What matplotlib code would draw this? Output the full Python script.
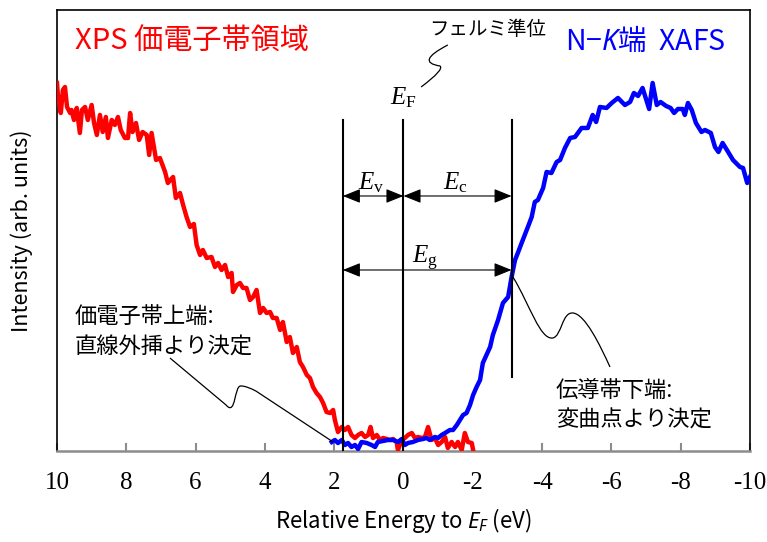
import matplotlib
matplotlib.use('Agg')
import matplotlib.pyplot as plt
from matplotlib.path import Path
from matplotlib.patches import PathPatch, FancyArrowPatch

plt.rcParams['font.family'] = ['Noto Sans CJK JP', 'DejaVu Sans']
plt.rcParams['axes.unicode_minus'] = False
plt.rcParams['mathtext.fontset'] = 'custom'
plt.rcParams['mathtext.rm'] = 'Liberation Serif'
plt.rcParams['mathtext.it'] = 'Liberation Serif:italic'
plt.rcParams['mathtext.sf'] = 'Noto Sans:italic'

# XPS valence band (red)
xps_e = [10.00, 9.97, 9.89, 9.83, 9.77, 9.71, 9.62, 9.58, 9.51, 9.43, 9.34, 9.28, 9.19, 9.11, 9.00,
         8.93, 8.85, 8.76, 8.68, 8.59, 8.53, 8.42, 8.33, 8.24, 8.16, 8.04, 7.95, 7.89, 7.82, 7.72,
         7.63, 7.53, 7.41, 7.34, 7.27, 7.14, 7.03, 6.88, 6.80, 6.65, 6.57, 6.45, 6.36, 6.26, 6.16,
         6.05, 5.97, 5.87, 5.79, 5.68, 5.54, 5.44, 5.35, 5.25, 5.15, 5.06, 4.96, 4.92, 4.81, 4.72,
         4.63, 4.53, 4.43, 4.34, 4.24, 4.14, 4.05, 3.95, 3.85, 3.77, 3.66, 3.56, 3.48, 3.37, 3.28,
         3.19, 3.08, 2.99, 2.90, 2.79, 2.70, 2.61, 2.51, 2.41, 2.32, 2.22, 2.12, 2.03, 1.98, 1.89,
         1.78, 1.69, 1.60, 1.50, 1.40, 1.31, 1.21, 1.11, 1.02, 0.95, 0.88, 0.77, 0.68, 0.59, 0.48,
         0.39, 0.30, 0.20, 0.16, 0.05, -0.04, -0.13, -0.24, -0.33, -0.42, -0.53, -0.62, -0.71, -0.81,
         -0.91, -1.00, -1.10, -1.20, -1.28, -1.39, -1.49, -1.57, -1.68, -1.77, -1.86, -1.97, -2.01]
xps_i = [3.68, 3.54, 3.38, 3.61, 3.64, 3.44, 3.38, 3.41, 3.31, 3.43, 3.18, 3.41, 3.44, 3.31, 3.46,
         3.28, 3.16, 3.36, 3.19, 3.34, 3.13, 3.31, 3.26, 3.34, 3.21, 3.13, 3.13, 3.38, 3.19, 3.28,
         3.11, 3.19, 3.16, 2.96, 3.18, 2.91, 2.93, 2.79, 2.68, 2.74, 2.53, 2.58, 2.46, 2.34, 2.24,
         2.27, 2.06, 1.96, 2.01, 1.93, 1.94, 1.84, 1.88, 1.81, 1.86, 1.74, 1.78, 1.59, 1.66, 1.68,
         1.63, 1.63, 1.51, 1.54, 1.61, 1.38, 1.43, 1.38, 1.39, 1.33, 1.33, 1.21, 1.29, 1.09, 1.14,
         0.98, 1.04, 0.89, 0.84, 0.76, 0.73, 0.64, 0.58, 0.54, 0.48, 0.39, 0.38, 0.41, 0.31, 0.19,
         0.24, 0.21, 0.24, 0.16, 0.13, 0.16, 0.18, 0.14, 0.16, 0.24, 0.13, 0.16, 0.11, 0.13, 0.12,
         0.11, 0.12, 0.09, 0.01, 0.11, 0.13, 0.16, 0.18, 0.13, 0.14, 0.13, 0.14, 0.24, 0.11,
         0.13, 0.06, 0.09, 0.14, 0.03, 0.09, 0.04, 0.09, 0.01, 0.18, 0.09, 0.08, 0.01]

# N-K edge XAFS (blue)
xafs_e = [2.07, 1.98, 1.89, 1.78, 1.69, 1.60, 1.50, 1.40, 1.31, 1.21, 1.06, 0.92, 0.82, 0.74, 0.59,
          0.45, 0.30, 0.16, 0.05, -0.04, -0.13, -0.27, -0.42, -0.56, -0.67, -0.76, -0.91, -1.00,
          -1.10, -1.20, -1.34, -1.43, -1.54, -1.63, -1.72, -1.82, -1.92, -2.01, -2.11, -2.21, -2.29,
          -2.50, -2.58, -2.73, -2.87, -3.02, -3.12, -3.22, -3.30, -3.41, -3.59, -3.70, -3.79, -3.88,
          -4.03, -4.13, -4.27, -4.42, -4.52, -4.66, -4.81, -4.95, -5.14, -5.32, -5.46, -5.56, -5.67,
          -5.86, -6.01, -6.19, -6.39, -6.54, -6.65, -6.77, -6.90, -7.09, -7.19, -7.31, -7.42, -7.58,
          -7.71, -7.81, -7.92, -8.06, -8.12, -8.21, -8.32, -8.44, -8.60, -8.70, -8.87, -8.99, -9.09,
          -9.21, -9.37, -9.51, -9.71, -9.80, -9.92, -10.00]
xafs_i = [0.09, 0.11, 0.08, 0.11, 0.06, 0.08, 0.04, 0.06, 0.02, 0.09, 0.08, 0.06, 0.04, 0.09, 0.10,
          0.11, 0.11, 0.09, 0.12, 0.06, 0.08, 0.09, 0.11, 0.12, 0.13, 0.11, 0.14, 0.13,
          0.16, 0.18, 0.21, 0.21, 0.26, 0.31, 0.36, 0.38, 0.46, 0.56, 0.64, 0.71, 0.88,
          1.04, 1.16, 1.31, 1.48, 1.54, 1.74, 1.91, 1.98, 2.08, 2.24, 2.34, 2.49, 2.51,
          2.63, 2.79, 2.78, 2.89, 2.91, 3.03, 3.13, 3.14, 3.23, 3.23, 3.36, 3.29, 3.44,
          3.43, 3.48, 3.53, 3.46, 3.49, 3.58, 3.55, 3.63, 3.42, 3.68, 3.46, 3.49, 3.45,
          3.43, 3.38, 3.42, 3.42, 3.36, 3.48, 3.41, 3.28, 3.19, 3.21, 3.18, 3.04, 2.99,
          3.08, 2.99, 2.91, 2.84, 2.83, 2.68, 2.74]

e_vbm = 1.75    # valence band maximum
e_fermi = 0.0
e_cbm = -3.12   # conduction band minimum
xticks = [10, 8, 6, 4, 2, 0, -2, -4, -6, -8, -10]

fig = plt.figure(figsize=(7.67, 5.42), dpi=100)
ax = fig.add_axes([0.0743, 0.1679, 0.9035, 0.8137])

ax.plot(xps_e, xps_i, color='#ff0000', lw=3.2, zorder=3)
ax.plot(xafs_e, xafs_i, color='#0000ff', lw=3.2, zorder=3)

ax.set_xlim(10, -10)
ax.set_ylim(0, 4.41)
ax.set_xticks(xticks)
ax.set_xticklabels([str(t) for t in xticks], fontfamily='Liberation Serif', fontsize=18)
ax.set_yticks([])
ax.tick_params(axis='x', direction='in', length=6, width=1.5, color='#8c8c8c', pad=15)

for s in ['top', 'left', 'right']:
    ax.spines[s].set_linewidth(1.2)
ax.spines['bottom'].set_color('#8c8c8c')
ax.spines['bottom'].set_linewidth(1.8)

ax.set_xlabel(r'Relative Energy to $\mathsf{E}_\mathsf{F}$ (eV)', fontsize=16)
ax.xaxis.set_label_coords(0.5, -0.125)
ax.set_ylabel('Intensity (arb. units)', fontsize=15.5)
ax.yaxis.set_label_coords(-0.035, 0.5)

# band edge markers
ax.plot([e_vbm, e_vbm], [0, 3.31], color='k', lw=1.5, zorder=5)
ax.plot([e_fermi, e_fermi], [0, 3.31], color='k', lw=1.5, zorder=5)
ax.plot([e_cbm, e_cbm], [0.74, 3.31], color='k', lw=1.5, zorder=5)

def arrow(x0, x1, y):
    ax.add_patch(FancyArrowPatch((x0, y), (x1, y), arrowstyle='<|-|>,head_length=0.72,head_width=0.29',
                                 mutation_scale=15, lw=0.8, color='k', shrinkA=0, shrinkB=0, zorder=5))

arrow(e_vbm, e_fermi, 2.55)
arrow(e_fermi, e_cbm, 2.55)
arrow(e_vbm, e_cbm, 1.81)

ax.text(0.94, 2.69, r'$E_\mathrm{v}$', fontsize=18, ha='center', va='center')
ax.text(-1.49, 2.69, r'$E_\mathrm{c}$', fontsize=18, ha='center', va='center')
ax.text(-0.62, 1.93, r'$E_\mathrm{g}$', fontsize=18, ha='center', va='center')
ax.text(0.0, 3.54, r'$E_\mathrm{F}$', fontsize=18, ha='center', va='center')

# titles
ax.text(0.026, 0.927, 'XPS 価電子帯領域', color='#ff0000', fontsize=21,
        transform=ax.transAxes, ha='left', va='center')
ax.text(0.733, 0.927, r'N−$\mathsf{K}$端  XAFS', color='#0000ff', fontsize=20.5,
        transform=ax.transAxes, ha='left', va='center')

ax.text(0.622, 0.955, 'フェルミ準位', fontsize=14, transform=ax.transAxes, ha='center', va='center')
ax.text(0.026, 0.269, '価電子帯上端:\n直線外挿より決定', fontsize=16, transform=ax.transAxes,
        ha='left', va='center', linespacing=1.35)
ax.text(0.720, 0.104, '伝導帯下端:\n変曲点より決定', fontsize=16, transform=ax.transAxes,
        ha='left', va='center', linespacing=1.35)

# leader lines
M, L, C3, C4 = Path.MOVETO, Path.LINETO, Path.CURVE3, Path.CURVE4
leaders = [
    ([(-1.28, 4.06), (-0.33, 3.89), (-1.05, 3.85), (-1.20, 3.82), (-0.51, 3.64)],
     [M, C3, C3, C3, C3]),
    ([(6.74, 0.93), (5.12, 0.46), (4.83, 0.34), (4.89, 0.66), (4.69, 0.65),
      (4.57, 0.65), (4.43, 0.63), (4.26, 0.60), (2.03, 0.09)],
     [M, L, C4, C4, C4, C4, C4, C4, L]),
    ([(-3.16, 1.74), (-3.65, 1.46), (-3.94, 1.11), (-4.31, 1.13), (-4.57, 1.15),
      (-4.57, 1.39), (-4.89, 1.38), (-5.24, 1.37), (-5.67, 1.06), (-5.96, 0.84)],
     [M, C4, C4, C4, C4, C4, C4, C4, C4, C4]),
]
for verts, codes in leaders:
    ax.add_patch(PathPatch(Path(verts, codes), fill=False, lw=0.9, color='k', zorder=4))

fig.savefig('out.png', dpi=100)
